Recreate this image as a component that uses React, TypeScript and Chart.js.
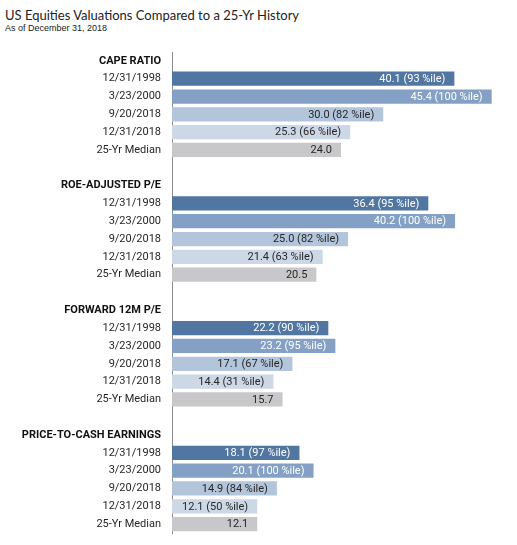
import { Chart, registerables } from "chart.js";
import { useEffect, useRef } from "react";

Chart.register(...registerables);

const groups = ["CAPE RATIO", "ROE-ADJUSTED P/E", "FORWARD 12M P/E", "PRICE-TO-CASH EARNINGS"];
const periods = ["12/31/1998", "3/23/2000", "9/20/2018", "12/31/2018", "25-Yr Median"];

const capeValues = [40.1, 45.4, 30.0, 25.3, 24.0];
const capePercentiles = [93, 100, 82, 66, null];
const roeValues = [36.4, 40.2, 25.0, 21.4, 20.5];
const roePercentiles = [95, 100, 82, 63, null];
const forwardValues = [22.2, 23.2, 17.1, 14.4, 15.7];
const forwardPercentiles = [90, 95, 67, 31, null];
const cashValues = [18.1, 20.1, 14.9, 12.1, 12.1];
const cashPercentiles = [97, 100, 84, 50, null];

const periodColors = ["#5276a2", "#84a1c5", "#b3c5db", "#ccd8e6", "#c8c8ca"];
const periodTextColors = ["#ffffff", "#ffffff", "#262626", "#262626", "#262626"];

const FONT = "Roboto, 'Noto Sans', sans-serif";

// flatten groups into one category axis: header row, 5 bars, spacer row
const groupValues = [capeValues, roeValues, forwardValues, cashValues];
const groupPercentiles = [capePercentiles, roePercentiles, forwardPercentiles, cashPercentiles];

const labels: string[] = [];
const values: (number | null)[] = [];
const pctiles: (number | null)[] = [];
const colors: string[] = [];
const textColors: string[] = [];
const headerRows: number[] = [];

groups.forEach((g, gi) => {
    headerRows.push(labels.length);
    labels.push(g);
    values.push(null);
    pctiles.push(null);
    colors.push("transparent");
    textColors.push("transparent");
    periods.forEach((p, pi) => {
        labels.push(p);
        values.push(groupValues[gi][pi]);
        pctiles.push(groupPercentiles[gi][pi]);
        colors.push(periodColors[pi]);
        textColors.push(periodTextColors[pi]);
    });
    if (gi < groups.length - 1) {
        labels.push("");
        values.push(null);
        pctiles.push(null);
        colors.push("transparent");
        textColors.push("transparent");
    }
});

const barLabels = {
    id: "barLabels",
    afterDatasetsDraw(chart: Chart) {
        const ctx = chart.ctx;
        const meta = chart.getDatasetMeta(0);
        ctx.save();
        ctx.font = `11px ${FONT}`;
        ctx.textAlign = "right";
        ctx.textBaseline = "middle";
        meta.data.forEach((bar: any, i: number) => {
            const v = values[i];
            if (v == null) return;
            const p = pctiles[i];
            const text = p == null ? v.toFixed(1) : `${v.toFixed(1)} (${p} %ile)`;
            ctx.fillStyle = textColors[i];
            ctx.fillText(text, bar.x - 9, bar.y + 0.5);
        });
        ctx.restore();
    },
};

export default function App() {
    const chartRef = useRef<HTMLCanvasElement | null>(null);

    useEffect(() => {
        if (!chartRef.current) return;
        const chartInstance = new Chart(chartRef.current, {
            type: "bar",
            data: {
                labels: labels,
                datasets: [
                    {
                        data: values,
                        backgroundColor: colors,
                        borderWidth: 0,
                        barPercentage: 0.8,
                        categoryPercentage: 1,
                    },
                ],
            },
            options: {
                indexAxis: "y",
                animation: false,
                responsive: true,
                maintainAspectRatio: false,
                layout: { padding: { top: 52, right: 7, bottom: 12, left: 0 } },
                plugins: {
                    legend: { display: false },
                    tooltip: { enabled: false },
                },
                scales: {
                    x: {
                        display: false,
                        min: 0,
                        max: 48,
                    },
                    y: {
                        afterFit: (scale: any) => {
                            scale.width = 172;
                            scale.paddingTop = 0;
                            scale.paddingBottom = 0;
                        },
                        grid: { display: false, drawTicks: false },
                        border: { display: true, color: "#8c8c8c", width: 1 },
                        ticks: {
                            autoSkip: false,
                            padding: 11,
                            color: (c: any) => (headerRows.includes(c.index) ? "#111111" : "#262626"),
                            font: (c: any) =>
                                headerRows.includes(c.index)
                                    ? { family: FONT, size: 11, weight: "bold" }
                                    : { family: FONT, size: 11, weight: "normal" },
                        },
                    },
                },
            },
            plugins: [barLabels],
        });
        return () => {
            chartInstance.destroy();
        };
    }, []);

    return (
        <div style={{ position: "absolute", left: 0, top: 0, width: 517, height: 545, background: "#fff" }}>
            <div
                style={{
                    position: "absolute",
                    left: 5,
                    top: 7,
                    fontFamily: "Lato, sans-serif",
                    fontSize: 13,
                    lineHeight: "16px",
                    color: "#222",
                    whiteSpace: "nowrap",
                }}
            >
                US Equities Valuations Compared to a 25-Yr History
            </div>
            <div
                style={{
                    position: "absolute",
                    left: 5,
                    top: 23,
                    fontFamily: "'Liberation Sans', Arial, sans-serif",
                    fontSize: 9,
                    lineHeight: "11px",
                    color: "#222",
                    whiteSpace: "nowrap",
                }}
            >
                As of December 31, 2018
            </div>
            <div style={{ position: "absolute", left: 0, top: 0, width: 517, height: 545 }}>
                <canvas ref={chartRef} />
            </div>
        </div>
    );
}
